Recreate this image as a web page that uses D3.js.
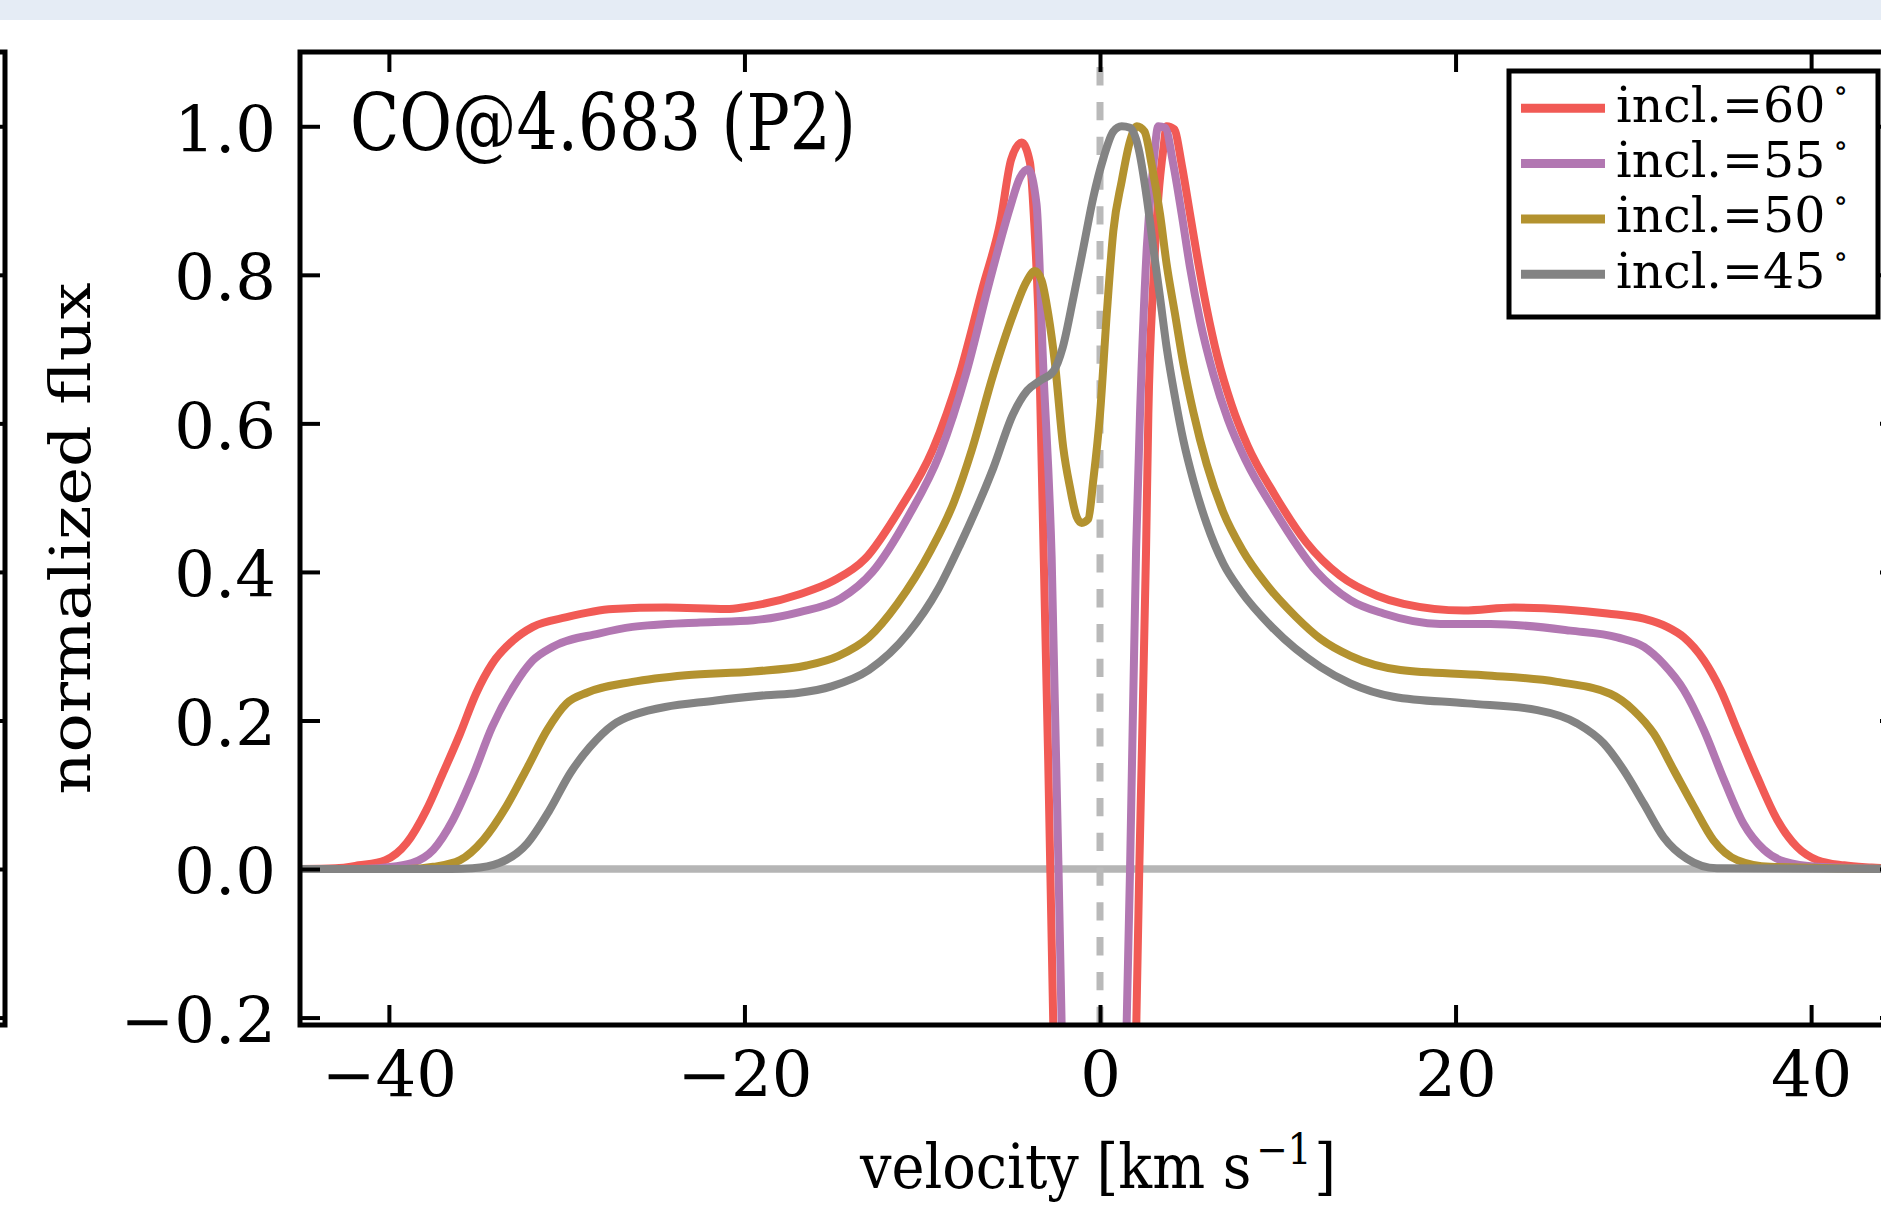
<!DOCTYPE html>
<html>
<head>
<meta charset="utf-8">
<script src="https://cdn.jsdelivr.net/npm/d3@7"></script>
<style>
  html, body { margin: 0; padding: 0; background: #fff; }
  svg { display: block; }
  text { font-family: 'DejaVu Serif', serif; fill: #000; }
</style>
</head>
<body>
<svg id="chart" width="1881" height="1206"></svg>
<script>
// Series labels, tick values
const inclinations = ['60', '55', '50', '45'];
const xTicks = [-40, -20, 0, 20, 40];
const yTicks = [-0.2, 0.0, 0.2, 0.4, 0.6, 0.8, 1.0];

// Line profiles: [velocity km/s, normalized flux]
// (the central absorption of 60 and 55 deg runs far below the axis and is clipped)
const incl60 = [
    [-45, 0], [-43, 0.001], [-41.7, 0.005], [-40.2, 0.012], [-39.0, 0.035], [-37.9, 0.079],
    [-36.96, 0.129], [-36.0, 0.182], [-35.1, 0.236], [-34.2, 0.276], [-33.0, 0.308],
    [-31.9, 0.326], [-30.0, 0.339], [-27.4, 0.35], [-24.4, 0.352], [-21.0, 0.35],
    [-19.9, 0.353], [-16.9, 0.37], [-15.0, 0.388], [-13.2, 0.418], [-11.3, 0.483],
    [-9.4, 0.565], [-7.9, 0.666], [-6.6, 0.783], [-5.6, 0.872], [-5.0, 0.955], [-4.41, 0.978],
    [-3.94, 0.951], [-3.7, 0.87], [-3.47, 0.75], [-2.63, -0.207], [-2.3, -0.58], [-0.3, -2.0],
    [1.7, -0.63], [2.21, 0], [2.59, 0.429], [2.72, 0.612], [3.0, 0.79], [3.28, 0.904],
    [3.57, 0.971], [3.75, 1.0], [4.17, 0.996], [4.6, 0.948], [5.07, 0.881], [5.54, 0.814],
    [6.0, 0.755], [6.6, 0.69], [7.4, 0.625], [8.3, 0.57], [9.8, 0.505], [11.6, 0.44],
    [13.5, 0.395], [15.58, 0.368], [17.08, 0.357], [20.46, 0.348], [23.27, 0.352],
    [28.53, 0.344], [30.59, 0.337], [31.9, 0.326], [32.84, 0.312], [33.97, 0.281],
    [34.91, 0.241], [35.85, 0.187], [36.97, 0.124], [38.1, 0.066], [39.2, 0.03],
    [40.35, 0.012], [41.85, 0.005], [43.4, 0.002], [45, 0]
];
const incl55 = [
    [-45, 0], [-41.5, 0.0], [-40.2, 0.002], [-38.7, 0.008], [-37.5, 0.026], [-36.4, 0.066],
    [-35.3, 0.124], [-34.2, 0.191], [-33.0, 0.245], [-31.9, 0.281], [-30.8, 0.299],
    [-28.2, 0.317], [-26.3, 0.326], [-22.5, 0.332], [-19.5, 0.335], [-16.9, 0.346],
    [-14.6, 0.364], [-12.8, 0.4], [-10.8, 0.474], [-9.0, 0.56], [-7.5, 0.67], [-6.2, 0.792],
    [-5.07, 0.89], [-4.5, 0.931], [-4.04, 0.942], [-3.57, 0.895], [-3.2, 0.68], [-2.72, 0.42],
    [-2.16, -0.207], [-1.9, -0.5], [-0.2, -1.8], [1.2, -0.55], [1.5, -0.207], [1.69, 0],
    [2.03, 0.429], [2.25, 0.612], [2.63, 0.836], [3.0, 0.948], [3.28, 1.0], [3.66, 0.998],
    [4.13, 0.948], [4.6, 0.881], [5.07, 0.809], [5.63, 0.738], [6.38, 0.666], [7.2, 0.605],
    [8.2, 0.55], [9.76, 0.485], [12.2, 0.4], [14.08, 0.362], [15.95, 0.344],
    [19.14, 0.33], [21.96, 0.33], [26.46, 0.321], [29.1, 0.312], [30.6, 0.299],
    [31.7, 0.276], [32.84, 0.241], [33.97, 0.187], [35.1, 0.12], [36.2, 0.061],
    [37.35, 0.026], [38.5, 0.01], [40.35, 0.003], [45, 0]
];
const incl50 = [
    [-45, 0], [-39, 0.0], [-37.5, 0.003], [-36.0, 0.012], [-34.7, 0.039], [-33.4, 0.084],
    [-32.2, 0.137], [-31.1, 0.187], [-30.0, 0.223], [-28.8, 0.238], [-26.3, 0.252],
    [-23.3, 0.261], [-19.5, 0.266], [-16.5, 0.274], [-14.7, 0.287], [-13.0, 0.312],
    [-11.4, 0.357], [-9.5, 0.43], [-8.2, 0.495], [-7.2, 0.565], [-6.0, 0.666], [-4.88, 0.747],
    [-4.13, 0.791], [-3.66, 0.805], [-3.28, 0.792], [-2.91, 0.747], [-2.53, 0.68],
    [-2.07, 0.568], [-1.69, 0.514], [-1.31, 0.474], [-1.03, 0.466], [-0.66, 0.471],
    [-0.38, 0.523], [0, 0.612], [0.38, 0.747], [0.75, 0.859], [1.22, 0.926], [1.69, 0.98],
    [2.07, 1.0], [2.5, 0.993], [2.91, 0.948], [3.38, 0.881], [3.75, 0.814], [4.22, 0.747],
    [4.69, 0.68], [5.25, 0.615], [6.0, 0.545], [6.94, 0.48], [8.0, 0.43], [9.3, 0.385],
    [11.0, 0.34], [12.4, 0.31], [14.08, 0.287], [16.9, 0.268], [21.6, 0.261], [25.7, 0.252],
    [28.7, 0.236], [30.0, 0.214], [31.16, 0.182], [32.28, 0.133], [33.4, 0.084],
    [34.5, 0.039], [35.85, 0.012], [37.7, 0.003], [45, 0]
];
const incl45 = [
    [-45, 0], [-36.5, 0.0], [-35.3, 0.001], [-33.8, 0.008], [-32.2, 0.035], [-30.97, 0.079],
    [-29.8, 0.129], [-28.7, 0.164], [-27.4, 0.194], [-26.3, 0.207], [-21.6, 0.227],
    [-18.8, 0.234], [-17.0, 0.237], [-15.1, 0.246], [-13.0, 0.268], [-10.8, 0.317],
    [-9.1, 0.377], [-7.9, 0.435], [-6.0, 0.54], [-4.9, 0.612], [-4.1, 0.644], [-3.4, 0.657],
    [-2.6, 0.671], [-2.1, 0.702], [-1.5, 0.769], [-0.94, 0.836], [-0.38, 0.904],
    [0.19, 0.957], [0.75, 0.993], [1.22, 1.0], [1.69, 0.998], [2.16, 0.971], [2.63, 0.904],
    [3.0, 0.836], [3.38, 0.769], [3.75, 0.702], [4.22, 0.635], [4.69, 0.577], [5.25, 0.523],
    [6.0, 0.465], [6.94, 0.411], [7.9, 0.375], [9.7, 0.325], [12.4, 0.272], [14.08, 0.25],
    [16.5, 0.232], [20.65, 0.223], [24.6, 0.214], [26.84, 0.196], [28.34, 0.169],
    [29.46, 0.133], [30.59, 0.088], [31.7, 0.043], [33.0, 0.014], [34.7, 0.001], [45, 0]
];

const profiles = [incl60, incl55, incl50, incl45];
const lineColors = ['#f15a55', '#b277b2', '#b3922f', '#838383'];

// Layout
const width = 1881;
const height = 1206;
const plot = { left: 300, right: 1900, top: 52, bottom: 1025 };

const svg = d3.select('#chart');

const x = d3.scaleLinear().domain([-45, 45]).range([plot.left, plot.right]);
const y = d3.scaleLinear().domain([-0.21, 1.1]).range([plot.bottom, plot.top]);

// Light band along the top of the page
svg.append('rect')
    .attr('x', 0).attr('y', 0)
    .attr('width', width).attr('height', 20)
    .attr('fill', '#e5ecf5');

// Clip for the plot area
svg.append('clipPath').attr('id', 'plot-clip')
    .append('rect')
    .attr('x', plot.left).attr('y', plot.top)
    .attr('width', plot.right - plot.left)
    .attr('height', plot.bottom - plot.top);

const inner = svg.append('g').attr('clip-path', 'url(#plot-clip)');

// Reference lines: zero flux and zero velocity
inner.append('line')
    .attr('x1', x(-45)).attr('x2', x(45))
    .attr('y1', y(0)).attr('y2', y(0))
    .attr('stroke', '#b5b5b5')
    .attr('stroke-width', 7.5);

inner.append('line')
    .attr('x1', x(0)).attr('x2', x(0))
    .attr('y1', y(-0.21)).attr('y2', y(1.1))
    .attr('stroke', '#b9b9b9')
    .attr('stroke-width', 7)
    .attr('stroke-dasharray', '18.3,16.5');

// Profiles
const line = d3.line()
    .x(d => x(d[0]))
    .y(d => y(d[1]))
    .curve(d3.curveMonotoneX);

inner.selectAll('path.profile')
    .data(profiles)
    .enter()
    .append('path')
    .attr('class', 'profile')
    .attr('d', line)
    .attr('fill', 'none')
    .attr('stroke', (d, i) => lineColors[i])
    .attr('stroke-width', 8)
    .attr('stroke-linejoin', 'round');

// Axes (matplotlib style: ticks inside on all four sides)
function styleAxis(g, fontSize) {
    g.select('.domain').remove();
    g.selectAll('.tick line').attr('stroke', '#000').attr('stroke-width', 4);
    g.selectAll('.tick text')
        .attr('fill', '#000')
        .style('font-family', "'DejaVu Serif', serif")
        .style('font-size', fontSize + 'px');
}

svg.append('g')
    .attr('transform', `translate(0,${plot.bottom})`)
    .call(d3.axisBottom(x).tickValues(xTicks).tickSize(-20).tickPadding(27).tickFormat(d3.format('d')))
    .call(g => styleAxis(g, 64));

svg.append('g')
    .attr('transform', `translate(0,${plot.top})`)
    .call(d3.axisTop(x).tickValues(xTicks).tickSize(-20).tickFormat(''))
    .call(g => styleAxis(g, 64));

svg.append('g')
    .attr('transform', `translate(${plot.left},0)`)
    .call(d3.axisLeft(y).tickValues(yTicks).tickSize(-20).tickPadding(24).tickFormat(d3.format('.1f')))
    .call(g => styleAxis(g, 64))
    .call(g => g.selectAll('.tick text').attr('dy', '0.39em'));

svg.append('g')
    .attr('transform', `translate(${plot.right},0)`)
    .call(d3.axisRight(y).tickValues(yTicks).tickSize(-20).tickFormat(''))
    .call(g => styleAxis(g, 64));

// Spines
svg.append('rect')
    .attr('x', plot.left).attr('y', plot.top)
    .attr('width', plot.right - plot.left)
    .attr('height', plot.bottom - plot.top)
    .attr('fill', 'none')
    .attr('stroke', '#000')
    .attr('stroke-width', 5);

// Right edge of the neighbouring panel on the left
const leftEdge = 5;
svg.append('g')
    .attr('transform', `translate(${leftEdge},0)`)
    .call(d3.axisRight(y).tickValues(yTicks).tickSize(-20).tickFormat(''))
    .call(g => styleAxis(g, 64));

svg.append('path')
    .attr('d', `M-20,${plot.top}H${leftEdge}V${plot.bottom}H-20`)
    .attr('fill', 'none')
    .attr('stroke', '#000')
    .attr('stroke-width', 5);

// Panel title
svg.append('text')
    .attr('x', 350)
    .attr('y', 150)
    .attr('font-size', 78)
    .attr('textLength', 506)
    .attr('lengthAdjust', 'spacingAndGlyphs')
    .text('CO@4.683 (P2)');

// Axis labels
svg.append('text')
    .attr('transform', `translate(90,${(plot.top + plot.bottom) / 2}) rotate(-90)`)
    .attr('text-anchor', 'middle')
    .attr('font-size', 56)
    .attr('textLength', 512)
    .attr('lengthAdjust', 'spacingAndGlyphs')
    .text('normalized flux');

const xLabel = svg.append('text')
    .attr('transform', `translate(${(plot.left + plot.right) / 2 - 2},1188) scale(0.9,1)`)
    .attr('text-anchor', 'middle')
    .attr('font-size', 62);
xLabel.append('tspan').text('velocity [km s');
xLabel.append('tspan').attr('dx', 5).attr('dy', -24).attr('font-size', 42).text('\u22121');
xLabel.append('tspan').attr('dx', 3).attr('dy', 24).text(']');

// Legend
const legend = svg.append('g');
legend.append('rect')
    .attr('x', 1509).attr('y', 71)
    .attr('width', 369).attr('height', 246)
    .attr('fill', '#fff')
    .attr('stroke', '#000')
    .attr('stroke-width', 5);

const rowStep = 55.3;
const rows = legend.selectAll('g.row')
    .data(inclinations)
    .enter()
    .append('g')
    .attr('class', 'row')
    .attr('transform', (d, i) => `translate(0,${108.3 + i * rowStep})`);

rows.append('line')
    .attr('x1', 1521).attr('x2', 1605)
    .attr('y1', 0).attr('y2', 0)
    .attr('stroke', (d, i) => lineColors[i])
    .attr('stroke-width', 9);

const rowText = rows.append('text')
    .attr('x', 1616)
    .attr('y', 13.5)
    .attr('font-size', 49);
rowText.append('tspan').text(d => `incl.=${d}`);
rowText.append('tspan').attr('dx', 8).attr('dy', -22).attr('font-size', 30).text('\u2218');
</script>
</body>
</html>
